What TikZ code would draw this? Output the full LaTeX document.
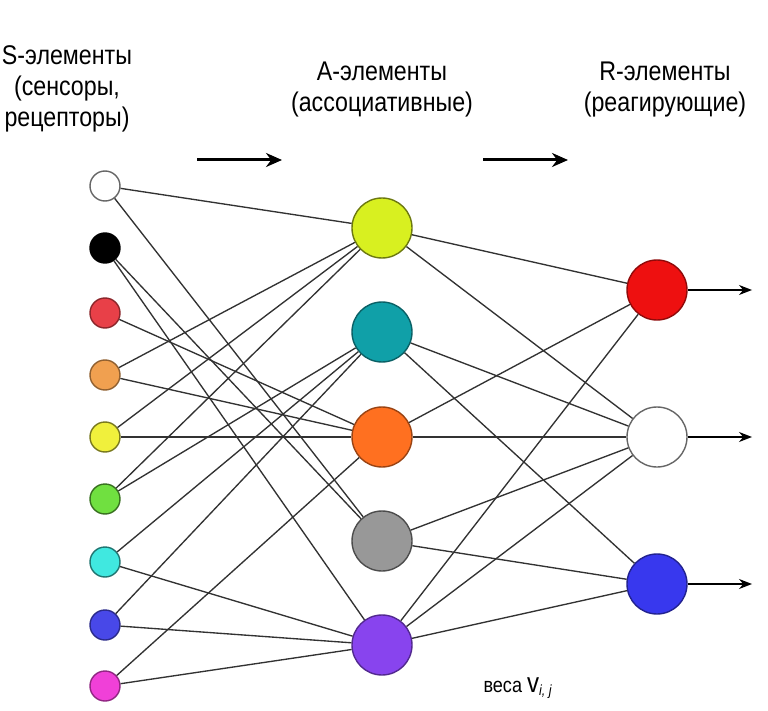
\documentclass[tikz,border=0pt]{standalone}
\usepackage{fontspec}
\setmainfont{Liberation Sans}
\newfontfamily\narrowfont{Liberation Sans}[FakeStretch=0.86]
\usetikzlibrary{arrows.meta}
\definecolor{sRed}{RGB}{232,64,72}
\definecolor{sOrange}{RGB}{240,160,80}
\definecolor{sYellow}{RGB}{240,240,60}
\definecolor{sGreen}{RGB}{112,224,64}
\definecolor{sCyan}{RGB}{64,232,224}
\definecolor{sBlue}{RGB}{72,72,232}
\definecolor{sMagenta}{RGB}{240,64,216}
\definecolor{aLime}{RGB}{216,240,32}
\definecolor{aTeal}{RGB}{16,160,168}
\definecolor{aOrange}{RGB}{255,112,32}
\definecolor{aGray}{RGB}{152,152,152}
\definecolor{aPurple}{RGB}{136,68,238}
\definecolor{rRed}{RGB}{238,16,16}
\definecolor{rBlue}{RGB}{56,56,238}
\definecolor{wire}{RGB}{50,50,50}
\begin{document}
\begin{tikzpicture}[x=1pt, y=-1pt,
  sens/.style={circle, inner sep=0pt, minimum size=30pt, line width=1.4pt},
  assoc/.style={circle, inner sep=0pt, minimum size=60pt, line width=1.4pt},
  edge/.style={draw=wire, line width=1.35pt},
  outp/.style={draw=black, line width=1.3pt, -{Stealth[length=13pt, width=10pt]}},
  head/.style={align=center, font=\narrowfont\fontsize{27}{31}\selectfont}]
\useasboundingbox (0,0) rectangle (768,711);
% S-elements
\node[sens, fill=white, draw=black!60] (s1) at (105,186){};
\node[sens, fill=black, draw=black] (s2) at (105,248){};
\node[sens, fill=sRed, draw=sRed!60!black] (s3) at (105,313){};
\node[sens, fill=sOrange, draw=sOrange!60!black] (s4) at (105,375){};
\node[sens, fill=sYellow, draw=sYellow!50!black] (s5) at (105,437){};
\node[sens, fill=sGreen, draw=sGreen!50!black] (s6) at (105,499){};
\node[sens, fill=sCyan, draw=sCyan!50!black] (s7) at (105,562){};
\node[sens, fill=sBlue, draw=sBlue!60!black] (s8) at (105,625){};
\node[sens, fill=sMagenta, draw=sMagenta!60!black] (s9) at (105,686){};
% A-elements
\node[assoc, fill=aLime, draw=aLime!50!black] (a1) at (382,228){};
\node[assoc, fill=aTeal, draw=aTeal!60!black] (a2) at (382,332){};
\node[assoc, fill=aOrange, draw=aOrange!60!black] (a3) at (382,437){};
\node[assoc, fill=aGray, draw=aGray!50!black] (a4) at (382,541){};
\node[assoc, fill=aPurple, draw=aPurple!60!black] (a5) at (382,645){};
% R-elements
\node[assoc, fill=rRed, draw=rRed!60!black] (r1) at (657,290){};
\node[assoc, fill=white, draw=black!60] (r2) at (657,437){};
\node[assoc, fill=rBlue, draw=rBlue!60!black] (r3) at (657,584){};
% S -> A
\draw[edge](s1) -- (a1);
\draw[edge](s1) -- (a4);
\draw[edge](s2) -- (a4);
\draw[edge](s2) -- (a5);
\draw[edge](s3) -- (a3);
\draw[edge](s4) -- (a1);
\draw[edge](s4) -- (a3);
\draw[edge](s5) -- (a1);
\draw[edge](s5) -- (a3);
\draw[edge](s6) -- (a1);
\draw[edge](s6) -- (a2);
\draw[edge](s7) -- (a2);
\draw[edge](s7) -- (a5);
\draw[edge](s8) -- (a2);
\draw[edge](s8) -- (a5);
\draw[edge](s9) -- (a3);
\draw[edge](s9) -- (a5);
% A -> R
\draw[edge](a1) -- (r1);
\draw[edge](a1) -- (r2);
\draw[edge](a2) -- (r2);
\draw[edge](a2) -- (r3);
\draw[edge](a3) -- (r1);
\draw[edge](a3) -- (r2);
\draw[edge](a4) -- (r2);
\draw[edge](a4) -- (r3);
\draw[edge](a5) -- (r1);
\draw[edge](a5) -- (r2);
\draw[edge](a5) -- (r3);
% outputs
\coordinate (o1) at (752,290);
\coordinate (o2) at (752,437);
\coordinate (o3) at (752,584);
\draw[outp](r1) -- (o1);
\draw[outp](r2) -- (o2);
\draw[outp](r3) -- (o3);
% headings
\node[head] (sHead) at (67,89){S-элементы\\(сенсоры,\\рецепторы)};
\node[head] (aHead) at (382,90){A-элементы\\(ассоциативные)};
\node[head] (rHead) at (665,90){R-элементы\\(реагирующие)};
\coordinate (f1) at (197,160);
\coordinate (f2) at (282,160);
\coordinate (f3) at (483,160);
\coordinate (f4) at (568,160);
\draw[line width=3pt, -{Stealth[length=16pt, width=14pt]}](f1) -- (f2);
\draw[line width=3pt, -{Stealth[length=16pt, width=14pt]}](f3) -- (f4);
\node[font=\narrowfont\fontsize{21}{24}\selectfont, anchor=west] (weights) at (480,688){веса {\fontsize{28}{28}\selectfont v}\textsubscript{\itshape i, j}};
\end{tikzpicture}
\end{document}
